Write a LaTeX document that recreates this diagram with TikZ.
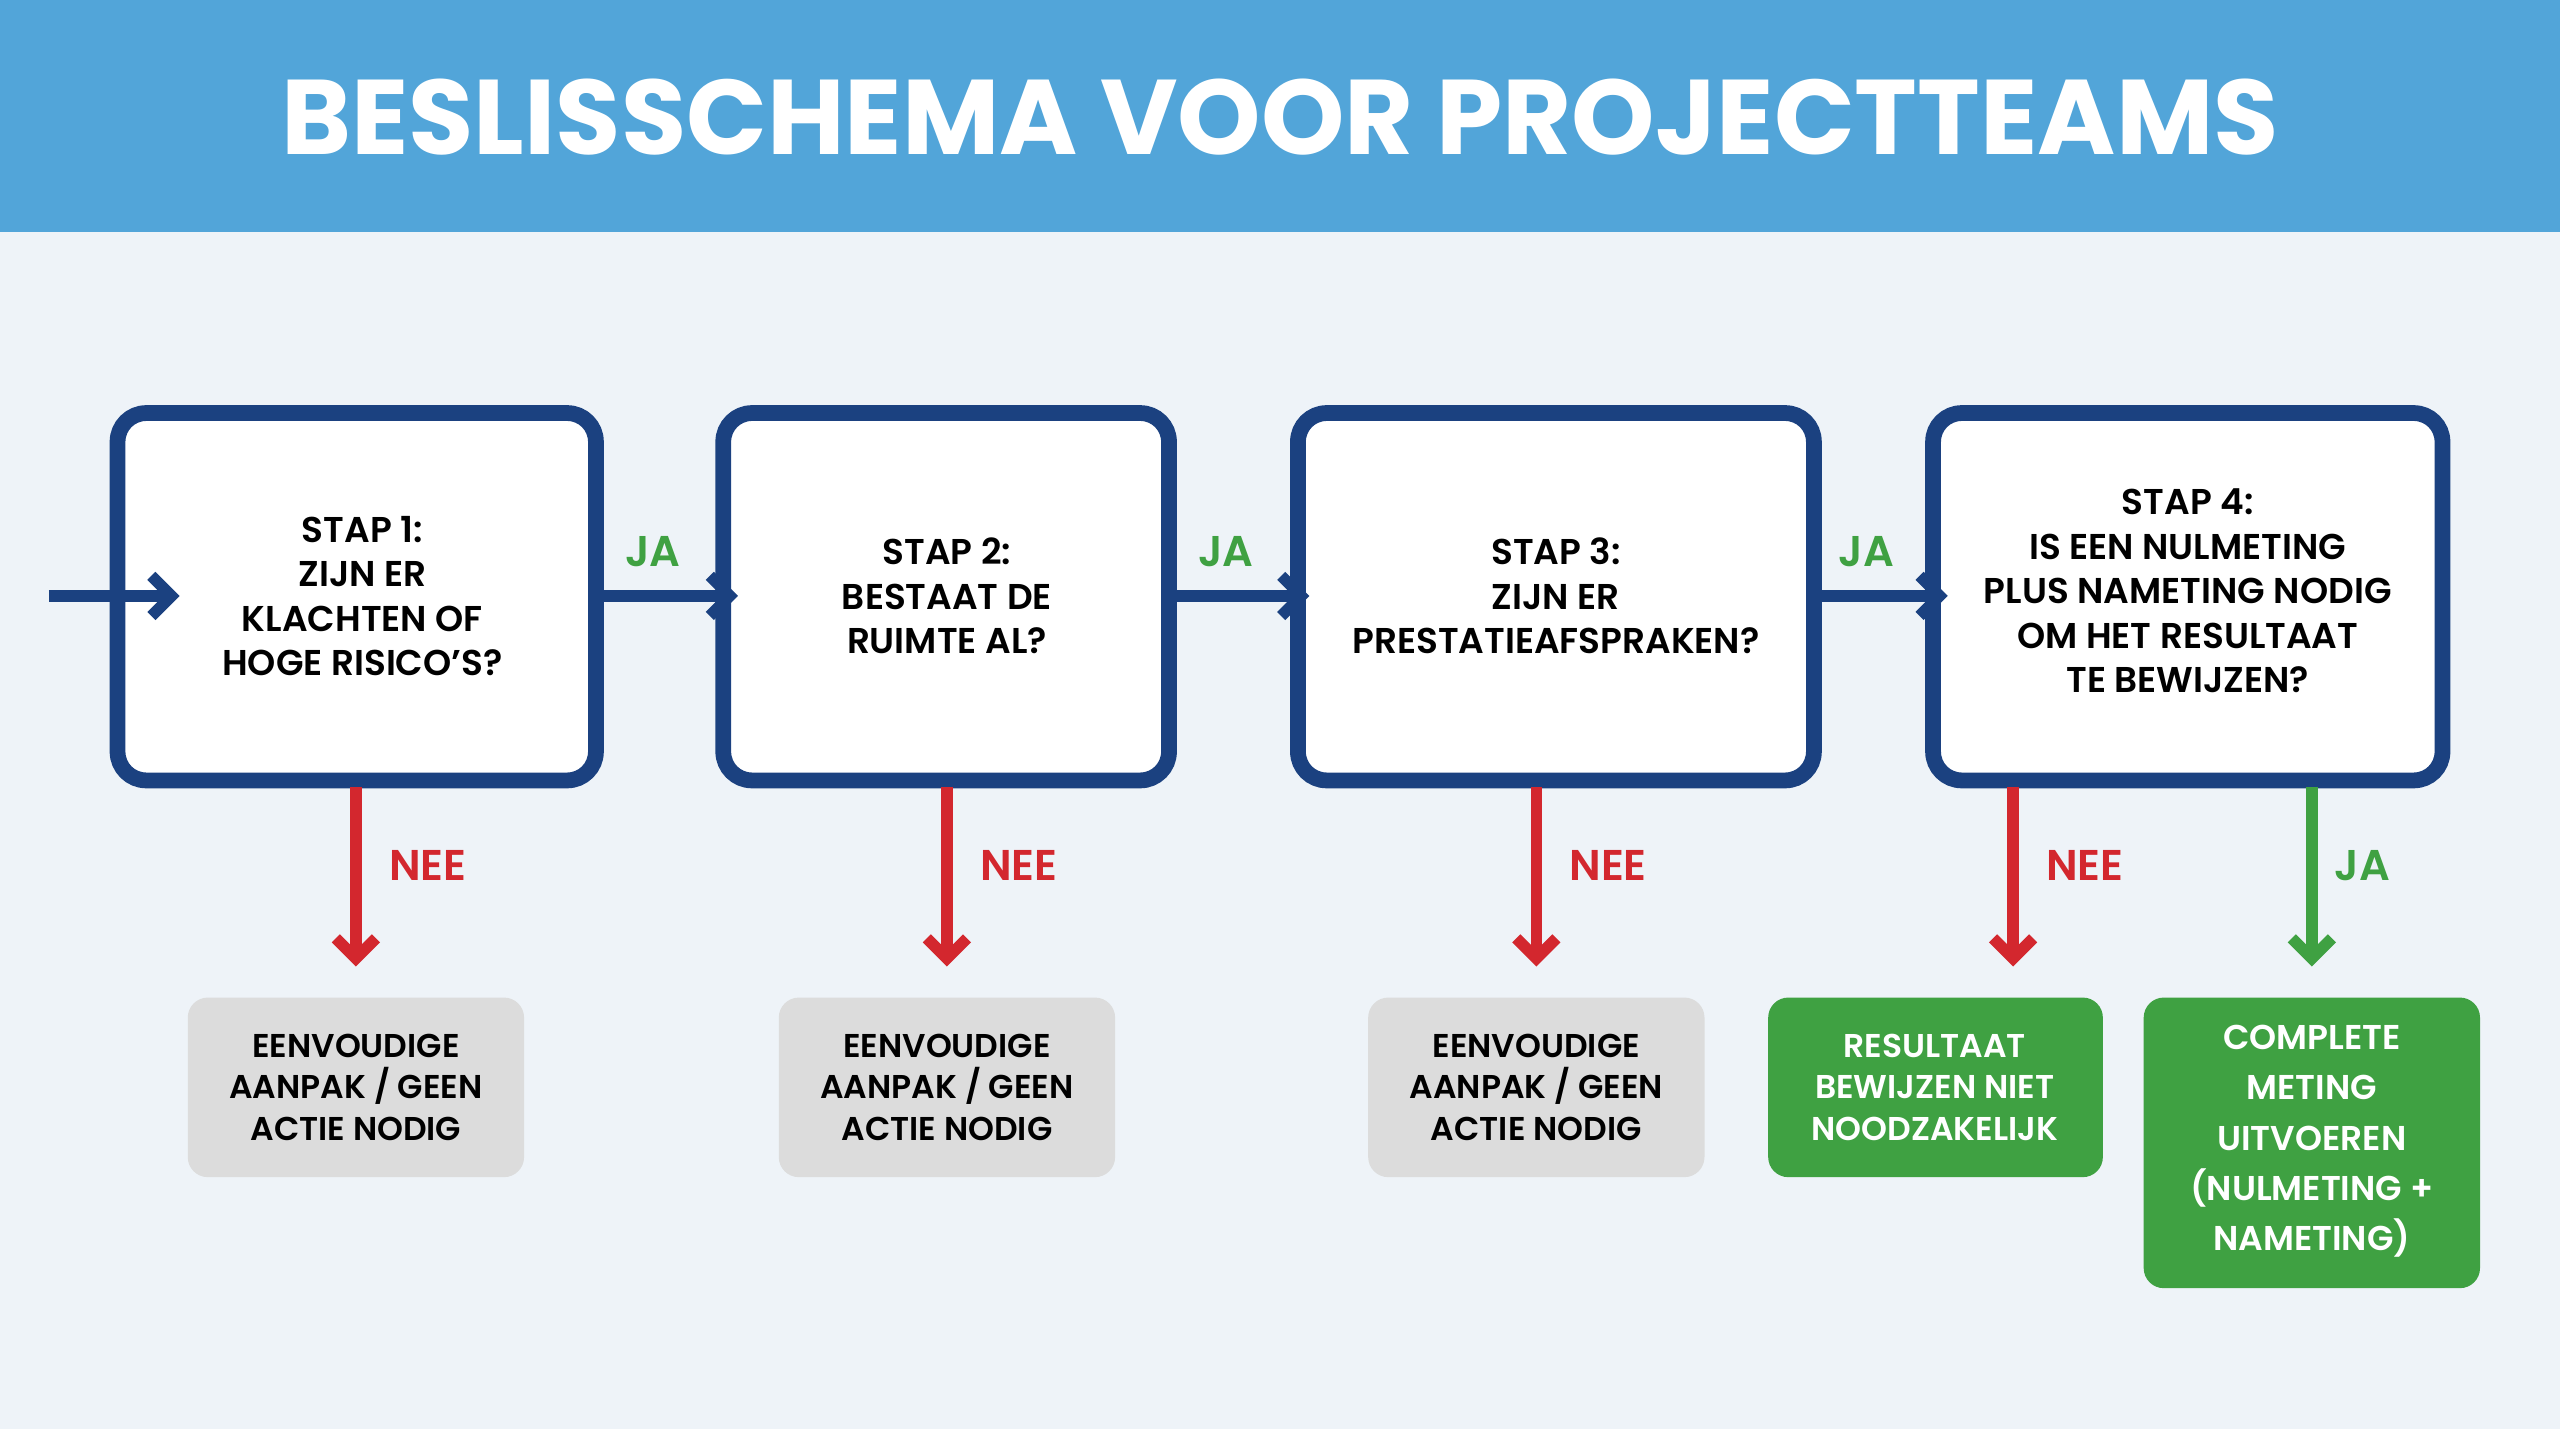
\documentclass[tikz,border=0pt]{standalone}
\usepackage{fontspec}
\setmainfont{Poppins}[UprightFont=* SemiBold, BoldFont=* Bold]
\usetikzlibrary{arrows.meta}
\definecolor{navy}{HTML}{1B4180}
\definecolor{hdr}{HTML}{52A5D9}
\definecolor{bg}{HTML}{EEF3F8}
\definecolor{nred}{HTML}{D3272E}
\definecolor{jgreen}{HTML}{3FA142}
\definecolor{gbox}{HTML}{DCDCDC}
\begin{document}
\begin{tikzpicture}[x=0.02cm,y=-0.02cm,
  boxline/.style={draw=navy,line width=5.5pt,rounded corners=10pt,fill=white},
  steptext/.style={align=center,font=\fontsize{12.5}{15.5}\selectfont},
  resbox/.style={align=center,font=\fontsize{11.5}{14.5}\selectfont,inner sep=0pt},
  flow/.style={draw=navy,line width=4pt,-{Straight Barb[length=7pt,width=14pt,line width=4pt]}},
  neearr/.style={draw=nred,line width=4pt,-{Straight Barb[length=7pt,width=14pt,line width=4pt]}},
  jaarr/.style={draw=jgreen,line width=4pt,-{Straight Barb[length=7pt,width=14pt,line width=4pt]}},
  lab/.style={font=\fontsize{15}{18}\selectfont}]
\useasboundingbox (0,0) rectangle (1568,875);
\fill[bg] (0,0) rectangle (1568,875);
\fill[hdr] (0,0) rectangle (1568,142);
\node[text=white,font=\fontsize{37}{44}\selectfont\bfseries] (title) at (784,72) {BESLISSCHEMA VOOR PROJECTTEAMS};
% step boxes
\draw[boxline] (72,253) rectangle (365,478);
\draw[boxline] (443,253) rectangle (716,478);
\draw[boxline] (795,253) rectangle (1111,478);
\draw[boxline] (1184,253) rectangle (1496,478);
\node[steptext] (t1) at (222,365) {STAP 1:\\ZIJN ER\\KLACHTEN OF\\HOGE RISICO'S?};
\node[steptext] (t2) at (580,365) {STAP 2:\\BESTAAT DE\\RUIMTE AL?};
\node[steptext] (t3) at (953,365) {STAP 3:\\ZIJN ER\\PRESTATIEAFSPRAKEN?};
\node[steptext] (t4) at (1340,362) {STAP 4:\\IS EEN NULMETING\\PLUS NAMETING NODIG\\OM HET RESULTAAT\\TE BEWIJZEN?};
% coordinates
\coordinate (in) at (30,365);
\coordinate (b1l) at (110,365); \coordinate (b1r) at (369,365);
\coordinate (b2l) at (452,365); \coordinate (b2r) at (720,365);
\coordinate (b3l) at (802,365); \coordinate (b3r) at (1115,365);
\coordinate (b4l) at (1193,365);
\draw[flow] (in) -- (b1l);
\draw[flow] (b1r) -- (b2l);
\draw[flow] (b2r) -- (b3l);
\draw[flow] (b3r) -- (b4l);
\node[lab,text=jgreen] (ja1) at (400,338) {JA};
\node[lab,text=jgreen] (ja2) at (751,338) {JA};
\node[lab,text=jgreen] (ja3) at (1143,338) {JA};
% result boxes
\fill[gbox,rounded corners=7pt] (115,611) rectangle (321,721);
\fill[gbox,rounded corners=7pt] (477,611) rectangle (683,721);
\fill[gbox,rounded corners=7pt] (838,611) rectangle (1044,721);
\fill[jgreen,rounded corners=7pt] (1083,611) rectangle (1288,721);
\fill[jgreen,rounded corners=7pt] (1313,611) rectangle (1519,789);
\node[resbox] (r1) at (218,666) {EENVOUDIGE\\AANPAK / GEEN\\ACTIE NODIG};
\node[resbox] (r2) at (580,666) {EENVOUDIGE\\AANPAK / GEEN\\ACTIE NODIG};
\node[resbox] (r3) at (941,666) {EENVOUDIGE\\AANPAK / GEEN\\ACTIE NODIG};
\node[resbox,text=white] (r4) at (1185,666) {RESULTAAT\\BEWIJZEN NIET\\NOODZAKELIJK};
\node[resbox,text=white,font=\fontsize{12}{17.5}\selectfont] (r5) at (1416,699) {COMPLETE\\METING\\UITVOEREN\\(NULMETING +\\NAMETING)};
% down arrows
\foreach \x/\n in {218/1,580/2,941/3,1233/4}{
  \coordinate (d\n a) at (\x,482); \coordinate (d\n b) at (\x,592);
  \draw[neearr] (d\n a) -- (d\n b);
}
\coordinate (d5a) at (1416,482); \coordinate (d5b) at (1416,592);
\draw[jaarr] (d5a) -- (d5b);
\node[lab,text=nred] (n1) at (262,530) {NEE};
\node[lab,text=nred] (n2) at (624,530) {NEE};
\node[lab,text=nred] (n3) at (985,530) {NEE};
\node[lab,text=nred] (n4) at (1277,530) {NEE};
\node[lab,text=jgreen] (ja5) at (1447,530) {JA};
\end{tikzpicture}
\end{document}
